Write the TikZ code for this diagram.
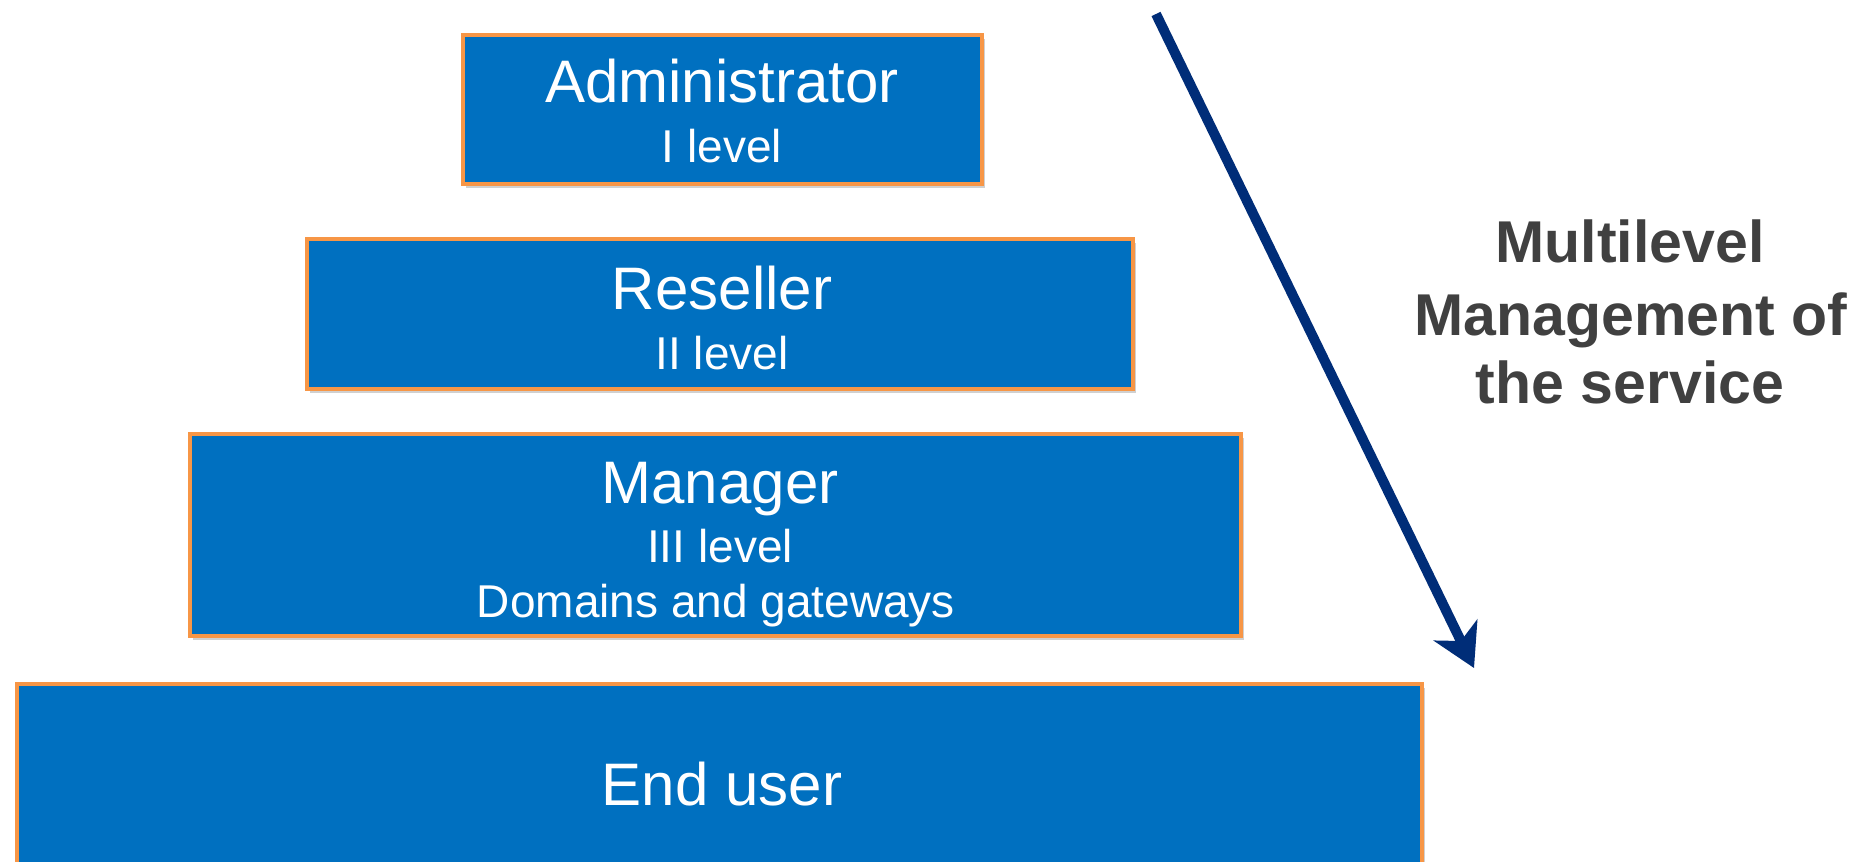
\documentclass[tikz,border=0pt]{standalone}
\usepackage{fontspec}
\setmainfont{Liberation Sans}
\usetikzlibrary{arrows.meta,shadows}
\definecolor{boxblue}{RGB}{0,112,192}
\definecolor{boxedge}{RGB}{247,150,70}
\definecolor{navy}{RGB}{0,45,120}
\definecolor{labelgray}{RGB}{64,64,64}
\begin{document}
\begin{tikzpicture}[x=0.5pt,y=-0.5pt,
  lvlbox/.style={draw=boxedge, line width=1.6pt, fill=boxblue, inner sep=0pt, outer sep=0pt,
    drop shadow={shadow xshift=1.5pt, shadow yshift=-2pt, opacity=0.3, fill=black!60}},
  bigtxt/.style={text=white, font=\fontsize{30}{36}\selectfont, anchor=base, inner sep=0pt},
  smalltxt/.style={text=white, font=\fontsize{23}{28}\selectfont, anchor=base, inner sep=0pt},
  sidetxt/.style={text=labelgray, font=\bfseries\fontsize{29.5}{36}\selectfont, anchor=base, inner sep=0pt},
  mgmtarrow/.style={navy, line width=5pt, -{Stealth[length=21pt,width=24pt,inset=6pt]}}]
\useasboundingbox (0,0) rectangle (1866,861);
\clip (0,0) rectangle (1866,861);
\fill[white] (0,0) rectangle (1866,861);

% level boxes
\node[lvlbox, minimum width=259.5pt, minimum height=74.5pt] (adm) at (722.5,109.5) {};
\node[lvlbox, minimum width=413pt, minimum height=75pt] (res) at (720,314) {};
\node[lvlbox, minimum width=525.5pt, minimum height=101pt] (man) at (715.5,535) {};
\node[lvlbox, minimum width=702.5pt, minimum height=108pt] (end) at (719.5,792) {};

% box texts
\node[bigtxt] (admT) at (722,103) {Administrator};
\node[smalltxt] (admL) at (722,163) {I level};
\node[bigtxt] (resT) at (722,309) {Reseller};
\node[smalltxt] (resL) at (722,369) {II level};
\node[bigtxt] (manT) at (720,503) {Manager};
\node[smalltxt] (manL) at (720,562) {III level};
\node[smalltxt] (manD) at (716,617) {Domains and gateways};
\node[bigtxt] (endT) at (722,805) {End user};

% side label
\node[sidetxt] (s1) at (1630,263) {Multilevel};
\node[sidetxt] (s2) at (1631,335) {Management of};
\node[sidetxt] (s3) at (1630,403) {the service};

% arrow
\coordinate (a0) at (1156,14);
\coordinate (a1) at (1474,668);
\draw[mgmtarrow] (a0) -- (a1);
\end{tikzpicture}
\end{document}
